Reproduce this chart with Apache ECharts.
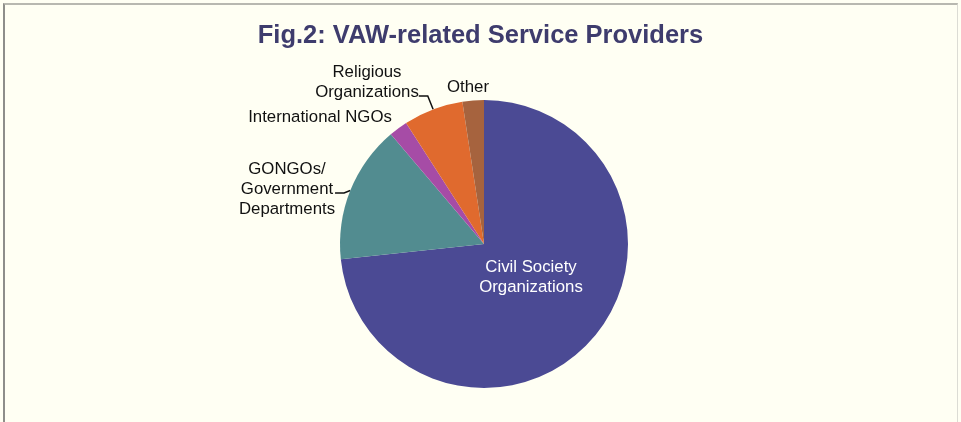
<!DOCTYPE html>
<html>
<head>
<meta charset="utf-8">
<script src="https://cdn.jsdelivr.net/npm/echarts@6/dist/echarts.min.js"></script>
<style>
  html, body { margin: 0; padding: 0; background: #FFFFF3; }
  #frame { position: absolute; left: 3px; top: 3px; width: 955px; height: 430px;
           border-left: 2px solid #8E8E8A; border-top: 2px solid #B8B8B0; border-right: 1px solid #DCDCD4; box-sizing: border-box; }
  #chart { position: absolute; left: 0; top: 0; width: 961px; height: 422px; }
</style>
</head>
<body>
<div id="frame"></div>
<div id="chart"></div>
<script>
const titleText = 'Fig.2: VAW-related Service Providers';
const categories = ['Civil Society\nOrganizations', 'GONGOs/\nGovernment\nDepartments', 'International NGOs', 'Religious\nOrganizations', 'Other'];
const values = [73.3, 15.5, 2.1, 6.7, 2.4];
const colors = ['#4B4A94', '#528C90', '#A64CA6', '#E06A2E', '#A6633E'];

// label placement (layout only)
const labelPlace = [
  { x: 531, y: 277 },
  { x: 287, y: 193 },
  { x: 320, y: 117 },
  { x: 367, y: 96 },
  { x: 468, y: 87 }
];
// extra space under a label so its leader line meets the lower part of the text
const labelTail = [0, 8, 0, 27, 0];
const showLine = [false, true, false, true, false];

const chart = echarts.init(document.getElementById('chart'), null, { renderer: 'canvas' });
const data = categories.map((name, i) => ({
  name: name,
  value: values[i],
  itemStyle: { color: colors[i], borderWidth: 0 },
  label: i === 0
    ? { position: 'inside', rich: { t: { color: '#FFFFFF' } } }
    : { position: 'outside', rich: { t: { color: '#111111' }, s: { lineHeight: labelTail[i] || 1, fontSize: 1 } } },
  labelLine: { show: showLine[i] }
}));

chart.setOption({
  backgroundColor: 'transparent',
  animation: false,
  title: {
    text: titleText,
    left: 'center',
    top: 18,
    textStyle: { fontFamily: 'Liberation Sans', fontWeight: 'bold', fontSize: 25.5, color: '#3E3C6D' }
  },
  series: [{
    type: 'pie',
    center: [484, 244],
    radius: [0, 144],
    startAngle: 90,
    clockwise: true,
    data: data,
    label: {
      show: true,
      formatter: function (p) {
        const body = p.name.split('\n').map(l => '{t|' + l + '}').join('\n');
        return labelTail[p.dataIndex] ? body + '\n{s| }' : body;
      },
      fontFamily: 'Liberation Sans',
      fontSize: 16.8,
      lineHeight: 20,
      align: 'center',
      rich: {
        t: { fontFamily: 'Liberation Sans', fontSize: 16.8, lineHeight: 20, align: 'center' }
      }
    },
    labelLine: {
      length: 10,
      length2: 9,
      lineStyle: { color: '#111111', width: 1.5 }
    },
    labelLayout: function (params) {
      const p = labelPlace[params.dataIndex];
      return { x: p.x, y: p.y, align: 'center', verticalAlign: 'middle' };
    },
    emphasis: { disabled: true }
  }]
});
</script>
</body>
</html>
